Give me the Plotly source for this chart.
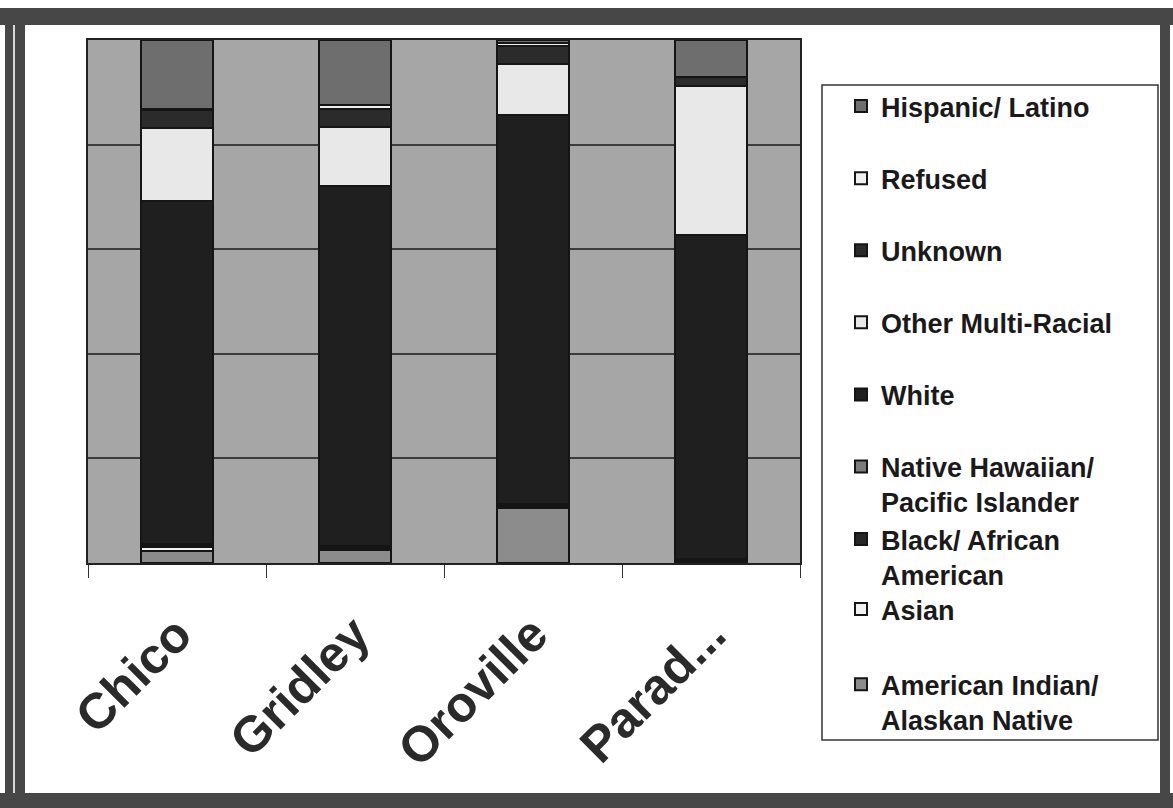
import plotly.graph_objects as go

# Stacked share (percent) by city
cities = ["Chico", "Gridley", "Oroville", "Parad..."]

american_indian = [2.3, 2.4, 10.5, 0.3]
asian = [0.8, 0.3, 0.2, 0.2]
black = [0.4, 0.3, 0.3, 0.1]
native_hawaiian = [0.2, 0.2, 0.2, 0.1]
white = [65.5, 68.9, 74.5, 62.0]
other_multi = [14.0, 11.3, 9.8, 28.5]
unknown = [3.4, 3.4, 3.4, 1.7]
refused = [0.3, 0.7, 0.6, 0.1]
hispanic = [13.1, 12.5, 0.5, 7.0]

# bottom -> top of each bar; last field = which legend box it sits in
series = [
    ("American Indian/<br>Alaskan Native", american_indian, "#8c8c8c", "legend3"),
    ("Asian", asian, "#f2f2f2", "legend3"),
    ("Black/ African<br>American", black, "#262626", "legend2"),
    ("Native Hawaiian/<br>Pacific Islander", native_hawaiian, "#7c7c7c", "legend"),
    ("White", white, "#1f1f1f", "legend"),
    ("Other Multi-Racial", other_multi, "#e8e8e8", "legend"),
    ("Unknown", unknown, "#2b2b2b", "legend"),
    ("Refused", refused, "#f0f0f0", "legend"),
    ("Hispanic/ Latino", hispanic, "#6e6e6e", "legend"),
]

W, H = 1173, 808
L, R, T, B = 88, 800, 40, 563  # plot area in pixels


def px(x):
    return (x - L) / (R - L)


def py(y):
    return (B - y) / (B - T)


fig = go.Figure()
n = len(series)
for i, (name, vals, col, leg) in enumerate(series):
    fig.add_trace(go.Bar(
        x=cities, y=vals, name=name, legend=leg,
        legendgroup=str(i), legendrank=n - i,
        marker=dict(color=col, line=dict(color="#151515", width=2)),
    ))

frame = "#474747"
shapes = [
    # scanned page frame
    dict(type="rect", x0=px(0), x1=px(1173), y0=py(8), y1=py(25)),
    dict(type="rect", x0=px(0), x1=px(1173), y0=py(793), y1=py(808)),
    dict(type="rect", x0=px(5), x1=px(25), y0=py(8), y1=py(808)),
    dict(type="rect", x0=px(1160), x1=px(1170), y0=py(8), y1=py(808)),
]
for s in shapes:
    s.update(xref="paper", yref="paper", fillcolor=frame, line=dict(width=0))
# thin light line inside the left frame band
shapes.append(dict(type="line", xref="paper", yref="paper",
                   x0=px(14), x1=px(14), y0=py(25), y1=py(793),
                   line=dict(color="#d8d8d8", width=2)))
# legend box
shapes.append(dict(type="rect", xref="paper", yref="paper",
                   x0=px(822), x1=px(1158), y0=py(85), y1=py(740),
                   line=dict(color="#333333", width=1.5)))

legend_font = dict(family="Liberation Sans, Arial", size=27, color="#1a1a1a", weight="bold")


def legend_box(top, gap):
    return dict(
        x=px(841), y=py(top), xanchor="left", yanchor="top",
        traceorder="grouped", tracegroupgap=gap, valign="top",
        bgcolor="rgba(0,0,0,0)", borderwidth=0, font=legend_font,
    )


fig.update_layout(
    width=W, height=H,
    margin=dict(l=L, r=W - R, t=T, b=H - B),
    paper_bgcolor="white",
    plot_bgcolor="#a6a6a6",
    barmode="stack",
    bargap=0.59,
    showlegend=True,
    legend=legend_box(82, 34),
    legend2=legend_box(515, 34),
    legend3=legend_box(585, 37),
    shapes=shapes,
    xaxis=dict(
        showline=True, linecolor="#222222", linewidth=2, mirror=True,
        ticks="outside", tickson="boundaries", ticklen=13, tickcolor="#333333",
        tickangle=-45, showgrid=False, ticklabelstandoff=20,
        tickfont=dict(family="Liberation Sans, Arial", size=50, color="#2a2a2a", weight="bold"),
    ),
    yaxis=dict(
        range=[0, 100], showticklabels=False, ticks="",
        dtick=20, showgrid=True, gridcolor="#3c3c3c", gridwidth=1.5,
        showline=True, linecolor="#222222", linewidth=2, mirror=True,
        zeroline=False,
    ),
)

fig.write_html("out.html", config={"displayModeBar": False},
               post_script="document.body.style.margin='0';")
